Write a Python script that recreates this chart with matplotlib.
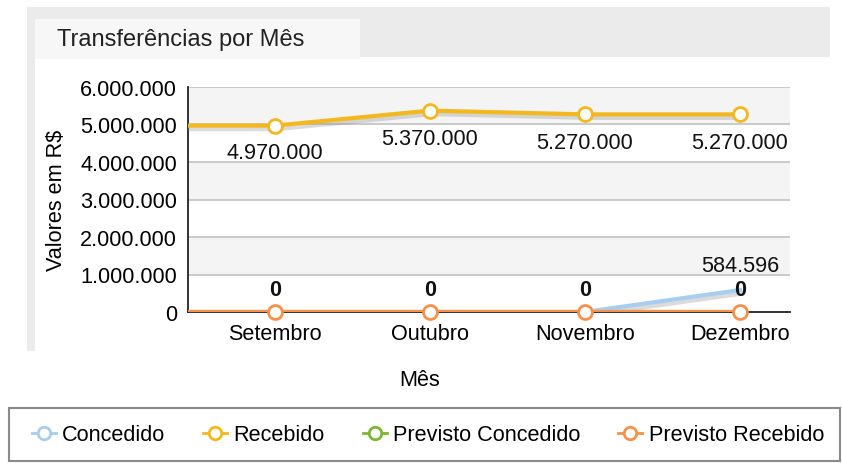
import numpy as np
import matplotlib.pyplot as plt
import matplotlib.patheffects as pe
from matplotlib.patches import Rectangle
from matplotlib.lines import Line2D

plt.rcParams['font.family'] = ['Liberation Sans', 'DejaVu Sans']

# data
meses = ['Setembro', 'Outubro', 'Novembro', 'Dezembro']
concedido = [0, 0, 0, 584596]
recebido = [4970000, 5370000, 5270000, 5270000]
previsto_concedido = [0, 0, 0, 0]
previsto_recebido = [0, 0, 0, 0]
yticks = [0, 1000000, 2000000, 3000000, 4000000, 5000000, 6000000]

c_conc = '#a8cdee'
c_rec = '#f2b81e'
c_pconc = '#7db534'
c_prec = '#f7904a'

FS = 15.6


def fmt(v):
    return f'{int(v):,}'.replace(',', '.')


fig = plt.figure(figsize=(8.42, 4.64), dpi=100)
W, H = 842, 464


def box(x0, y0, x1, y1, **kw):
    # rectangle in pixel coords (top-left origin)
    r = Rectangle((x0 / W, 1 - y1 / H), (x1 - x0) / W, (y1 - y0) / H,
                  transform=fig.transFigure, **kw)
    fig.patches.append(r)


# panel background
box(27, 8, 830, 58, facecolor='#ebebeb', edgecolor='none')
box(27, 58, 35, 352, facecolor='#ebebeb', edgecolor='none')
box(35, 20, 360, 60, facecolor='#f7f7f7', edgecolor='none')
fig.text(57 / W, 1 - 40 / H, 'Transferências por Mês', fontsize=17,
         va='center', ha='left', color='#222222')

# legend frame
box(9, 409, 840, 462, facecolor='white', edgecolor='#8a8a8a', linewidth=1.5)

ax = fig.add_axes([188 / W, 1 - 313 / H, 602 / W, 225 / H])
ax.set_facecolor('white')
x = np.arange(len(meses))

# alternating bands
for i in range(len(yticks) - 1):
    if i % 2 == 1:
        ax.axhspan(yticks[i], yticks[i + 1], color='#f4f4f4', zorder=0, lw=0)
for t in yticks[1:]:
    ax.axhline(t, color='#c6c6c6', lw=1.3, zorder=1)

shadow = [pe.SimpleLineShadow(offset=(1.5, -2.5), shadow_color='#888888', alpha=0.3),
          pe.Normal()]

xl = np.r_[-1, x]

ax.plot(xl, np.r_[previsto_concedido[0], previsto_concedido], color=c_pconc,
        lw=3, zorder=3, path_effects=shadow)
ax.plot(xl, np.r_[concedido[0], concedido], color=c_conc, lw=3, zorder=3,
        path_effects=shadow)
ax.plot(xl, np.r_[previsto_recebido[0], previsto_recebido], color=c_prec,
        lw=3, zorder=4, path_effects=shadow)
ax.plot(x, previsto_recebido, 'o', ms=10, mfc='white', mec=c_prec, mew=2,
        zorder=5, clip_on=False)
ax.plot(xl, np.r_[recebido[0], recebido], color=c_rec, lw=3, zorder=4,
        path_effects=shadow)
ax.plot(x, recebido, 'o', ms=10, mfc='white', mec=c_rec, mew=2, zorder=5)

# labels
for i, v in enumerate(recebido):
    dy = -19 if i == 0 else -20
    ax.annotate(fmt(v), (i, v), xytext=(0, dy), textcoords='offset points',
                ha='center', va='center', fontsize=FS, color='#111111', zorder=6)
for i, v in enumerate(previsto_recebido):
    ax.annotate(fmt(v), (i, v), xytext=(0, 16.5), textcoords='offset points',
                ha='center', va='center', fontsize=FS, fontweight='bold',
                color='#111111', zorder=6)
ax.annotate(fmt(concedido[3]), (3, concedido[3]), xytext=(0, 18),
            textcoords='offset points', ha='center', va='center',
            fontsize=FS, color='#111111', zorder=6)

ax.set_xlim(-0.561, 3.323)
ax.set_ylim(0, 6000000)
ax.set_xticks(x)
ax.set_xticklabels(meses, fontsize=FS)
ax.set_yticks(yticks)
ax.set_yticklabels([fmt(t) for t in yticks], fontsize=FS)
ax.tick_params(length=0, pad=8)
ax.tick_params(axis='x', pad=8)
for s in ['top', 'right']:
    ax.spines[s].set_visible(False)
ax.spines['left'].set_color('#222222')
ax.spines['left'].set_linewidth(1.3)
ax.spines['bottom'].set_color('#222222')
ax.spines['bottom'].set_linewidth(1.3)

fig.text(57 / W, 1 - 200 / H, 'Valores em R$', fontsize=FS, rotation=90,
         ha='center', va='center')
fig.text(420 / W, 1 - 381 / H, 'Mês', fontsize=FS, ha='center', va='center')

handles = [Line2D([], [], color=c, lw=2, marker='o', ms=9, mfc='white', mec=c, mew=2)
           for c in [c_conc, c_rec, c_pconc, c_prec]]
fig.legend(handles, ['Concedido', 'Recebido', 'Previsto Concedido', 'Previsto Recebido'],
           loc='center', bbox_to_anchor=(428 / W, 1 - 436 / H), ncol=4,
           frameon=False, fontsize=FS, handlelength=1.1, handletextpad=0.3,
           columnspacing=1.75)

fig.savefig('out.png', dpi=100)
